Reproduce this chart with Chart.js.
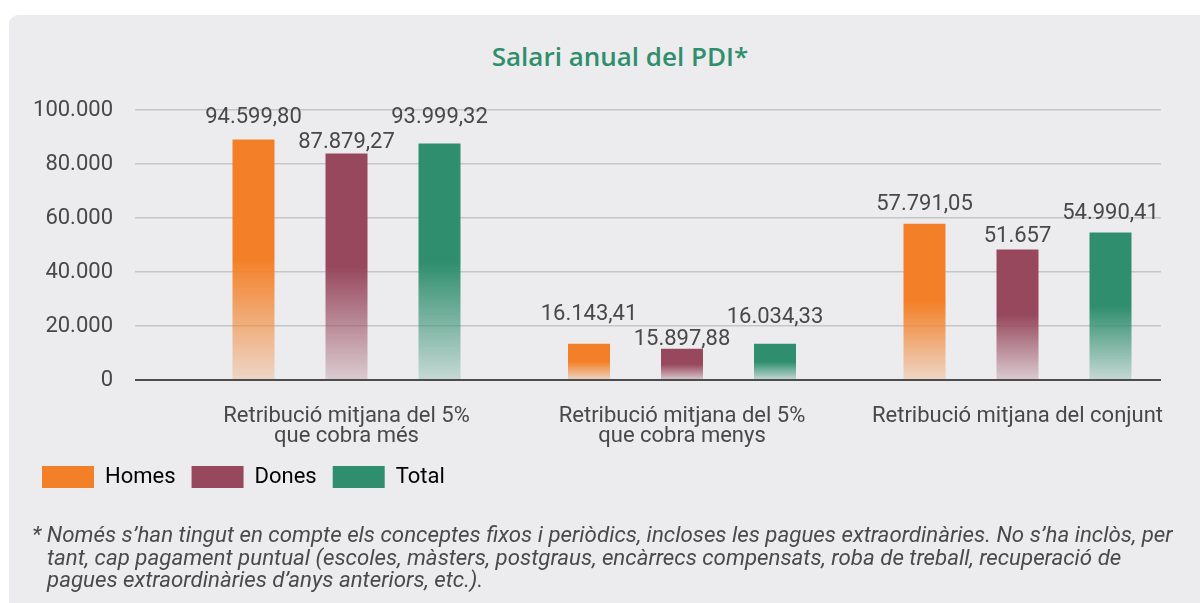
<!DOCTYPE html>
<html>
<head>
<meta charset="utf-8">
<script src="https://cdn.jsdelivr.net/npm/chart.js@4.4.1/dist/chart.umd.min.js"></script>
<style>
  html, body { margin: 0; padding: 0; background: #ffffff; }
  body { width: 1200px; height: 603px; position: relative; overflow: hidden; font-family: Roboto, sans-serif; }
  #panel { position: absolute; left: 9px; top: 15px; width: 1200px; height: 600px; background: #ececee; border-top-left-radius: 9px; }
  #title { position: absolute; left: 0; top: 41px; width: 1240px; text-align: center; font: 600 26px/30px "Open Sans", sans-serif; color: #2f8e6c; }
  #c { position: absolute; left: 0; top: 0; }
  #note { position: absolute; left: 32px; top: 523px; font: italic 22.3px/22.5px Roboto, sans-serif; color: #4a4a4a; white-space: nowrap; padding-left: 15px; text-indent: -15px; }
</style>
</head>
<body>
<div id="panel"></div>
<div id="title">Salari anual del PDI*</div>
<canvas id="c" width="1200" height="603"></canvas>
<div id="note">* Només s’han tingut en compte els conceptes fixos i periòdics, incloses les pagues extraordinàries. No s’ha inclòs, per<br>tant, cap pagament puntual (escoles, màsters, postgraus, encàrrecs compensats, roba de treball, recuperació de<br>pagues extraordinàries d’anys anteriors, etc.).</div>
<script>
// ---- data ----
const categories = [
  ['Retribució mitjana del 5%', 'que cobra més'],
  ['Retribució mitjana del 5%', 'que cobra menys'],
  ['Retribució mitjana del conjunt']
];
const seriesNames = ['Homes', 'Dones', 'Total'];
const homes = [89100, 13450, 57900];
const dones = [83900, 11600, 48300];
const total = [87600, 13450, 54600];
const homesLabels = ['94.599,80', '16.143,41', '57.791,05'];
const donesLabels = ['87.879,27', '15.897,88', '51.657'];
const totalLabels = ['93.999,32', '16.034,33', '54.990,41'];
const yTickLabels = ['0', '20.000', '40.000', '60.000', '80.000', '100.000'];

// ---- styles ----
const seriesColors = ['#f38028', '#97485d', '#2f8e6e'];
const labelGaps = [[16, 24, 14], [5, 4, 8], [20, 21, 14]];
const textColor = '#484848';

function fade(hex, a) {
  const n = parseInt(hex.slice(1), 16);
  return `rgba(${(n >> 16) & 255},${(n >> 8) & 255},${n & 255},${a})`;
}
function barFill(color) {
  return (ctx) => {
    const chart = ctx.chart;
    if (!chart.chartArea || ctx.type !== 'data') return color;
    const y = chart.scales.y;
    const top = y.getPixelForValue(ctx.parsed.y);
    const base = y.getPixelForValue(0);
    if (!isFinite(top) || Math.abs(base - top) < 1) return color;
    const g = chart.ctx.createLinearGradient(0, top, 0, base);
    g.addColorStop(0, color);
    g.addColorStop(0.5, color);
    g.addColorStop(1, fade(color, 0.2));
    return g;
  };
}

const seriesValues = [homes, dones, total];
const seriesLabels = [homesLabels, donesLabels, totalLabels];

const valueLabelPlugin = {
  id: 'valueLabels',
  afterDatasetsDraw(chart) {
    const ctx = chart.ctx;
    ctx.save();
    ctx.font = '22px Roboto';
    ctx.fillStyle = textColor;
    ctx.textAlign = 'center';
    ctx.textBaseline = 'alphabetic';
    chart.data.datasets.forEach((ds, di) => {
      chart.getDatasetMeta(di).data.forEach((bar, i) => {
        ctx.fillText(seriesLabels[di][i], bar.x, bar.y - labelGaps[di][i]);
      });
    });
    ctx.restore();
  }
};

Chart.defaults.font.family = 'Roboto';
Chart.defaults.color = textColor;

new Chart(document.getElementById('c'), {
  type: 'bar',
  data: {
    datasets: seriesNames.map((name, di) => ({
      label: name,
      data: seriesValues[di].map((v, i) => ({ x: i, y: v })),
      backgroundColor: barFill(seriesColors[di]),
      borderWidth: 0,
      categoryPercentage: 0.8316,
      barPercentage: 0.4516
    }))
  },
  options: {
    responsive: false,
    animation: false,
    devicePixelRatio: 1,
    layout: { padding: { left: 26, right: 39, top: 110, bottom: 105 } },
    plugins: {
      title: { display: false },
      tooltip: { enabled: false },
      legend: {
        position: 'bottom',
        align: 'start',
        labels: {
          boxWidth: 52,
          boxHeight: 22,
          padding: 16,
          color: textColor,
          font: { size: 22 },
          generateLabels: (chart) => chart.data.datasets.map((ds, i) => ({
            text: ds.label,
            fillStyle: seriesColors[i],
            strokeStyle: seriesColors[i],
            lineWidth: 0,
            hidden: false,
            datasetIndex: i
          }))
        }
      }
    },
    scales: {
      x: {
        type: 'linear',
        offset: false,
        bounds: 'data',
        min: -0.6304,
        max: 2.4277,
        afterBuildTicks: (axis) => { axis.ticks = categories.map((c, i) => ({ value: i })); },
        afterFit: (s) => { s.height = 70; },
        grid: { display: false, offset: false },
        border: { display: false },
        ticks: {
          autoSkip: false,
          maxRotation: 0,
          minRotation: 0,
          padding: 18,
          color: textColor,
          font: { size: 22, lineHeight: '20px' },
          callback: (v) => categories[v]
        }
      },
      y: {
        min: 0,
        max: 100000,
        afterFit: (s) => { s.width = 109; },
        grid: {
          drawTicks: false,
          color: (c) => (c.tick && c.tick.value === 0 ? '#4d4d4d' : '#c6c6c6'),
          lineWidth: (c) => (c.tick && c.tick.value === 0 ? 2 : 1.5)
        },
        border: { display: false },
        ticks: {
          stepSize: 20000,
          padding: 22,
          color: textColor,
          font: { size: 22 },
          callback: (v, i) => yTickLabels[i]
        }
      }
    }
  },
  plugins: [valueLabelPlugin]
});
</script>
</body>
</html>
